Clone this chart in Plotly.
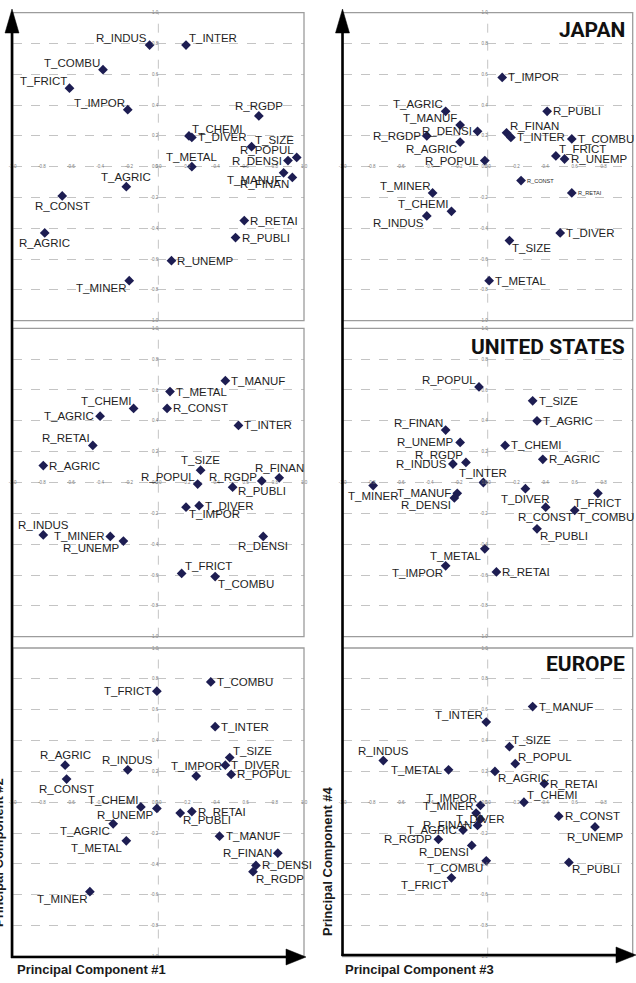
import plotly.graph_objects as go

# ---------------- data ----------------
TICKS = [-1.0, -0.8, -0.6, -0.4, -0.2, 0.0, 0.2, 0.4, 0.6, 0.8, 1.0]
TICK_TEXT = [f"{t:.1f}" for t in TICKS]

# Japan, PC1 vs PC2
JP12_NAMES = ["R_INDUS", "T_INTER", "T_COMBU", "T_FRICT", "T_IMPOR", "R_RGDP", "T_CHEMI", "T_DIVER",
              "T_SIZE", "R_POPUL", "R_DENSI", "T_MANUF", "R_FINAN", "T_METAL", "T_AGRIC", "R_CONST",
              "R_AGRIC", "R_RETAI", "R_PUBLI", "R_UNEMP", "T_MINER"]
JP12_X = [-0.06, 0.19, -0.38, -0.61, -0.21, 0.69, 0.21, 0.23, 0.64, 0.95, 0.89, 0.86, 0.92, 0.23,
          -0.22, -0.66, -0.78, 0.59, 0.53, 0.09, -0.20]
JP12_Y = [0.79, 0.79, 0.63, 0.51, 0.37, 0.33, 0.20, 0.19, 0.13, 0.06, 0.04, -0.04, -0.07, 0.00,
          -0.13, -0.19, -0.43, -0.35, -0.46, -0.61, -0.74]

# Japan, PC3 vs PC4
JP34_NAMES = ["T_IMPOR", "T_AGRIC", "R_PUBLI", "T_MANUF", "R_RGDP", "R_DENSI", "R_AGRIC", "R_POPUL",
              "R_FINAN", "T_INTER", "T_COMBU", "T_FRICT", "R_UNEMP", "R_CONST", "R_RETAI", "T_MINER",
              "T_CHEMI", "R_INDUS", "T_DIVER", "T_SIZE", "T_METAL"]
JP34_X = [0.10, -0.29, 0.41, -0.19, -0.42, -0.07, -0.19, -0.02, 0.13, 0.16, 0.58, 0.47, 0.53, 0.23,
          0.58, -0.38, -0.25, -0.42, 0.50, 0.15, 0.01]
JP34_Y = [0.58, 0.36, 0.36, 0.27, 0.20, 0.23, 0.16, 0.04, 0.22, 0.19, 0.18, 0.07, 0.05, -0.09,
          -0.17, -0.17, -0.29, -0.32, -0.43, -0.48, -0.74]

# United States, PC1 vs PC2
US12_NAMES = ["T_MANUF", "T_METAL", "T_CHEMI", "R_CONST", "T_AGRIC", "T_INTER", "R_RETAI", "R_AGRIC",
              "T_SIZE", "R_POPUL", "R_RGDP", "R_PUBLI", "R_FINAN", "T_DIVER", "T_IMPOR", "R_INDUS",
              "T_MINER", "R_UNEMP", "R_DENSI", "T_FRICT", "T_COMBU"]
US12_X = [0.46, 0.08, -0.17, 0.06, -0.40, 0.55, -0.45, -0.79, 0.29, 0.27, 0.51, 0.71, 0.83, 0.28,
          0.19, -0.79, -0.33, -0.24, 0.72, 0.16, 0.39]
US12_Y = [0.66, 0.59, 0.48, 0.48, 0.43, 0.37, 0.24, 0.11, 0.08, -0.01, -0.03, 0.01, 0.03, -0.15,
          -0.16, -0.34, -0.35, -0.38, -0.35, -0.59, -0.61]

# United States, PC3 vs PC4
US34_NAMES = ["R_POPUL", "T_SIZE", "T_AGRIC", "R_FINAN", "R_UNEMP", "T_CHEMI", "R_RGDP", "R_AGRIC",
              "R_INDUS", "T_INTER", "T_MINER", "T_MANUF", "R_DENSI", "T_DIVER", "T_FRICT", "R_CONST",
              "T_COMBU", "R_PUBLI", "T_METAL", "T_IMPOR", "R_RETAI"]
US34_X = [-0.06, 0.31, 0.34, -0.29, -0.19, 0.12, -0.15, 0.38, -0.24, -0.03, -0.79, -0.21, -0.23,
          0.26, 0.76, 0.40, 0.60, 0.34, -0.02, -0.29, 0.06]
US34_Y = [0.62, 0.53, 0.40, 0.34, 0.26, 0.24, 0.13, 0.15, 0.12, 0.00, -0.02, -0.07, -0.10, -0.04,
          -0.07, -0.16, -0.18, -0.30, -0.43, -0.54, -0.58]

# Europe, PC1 vs PC2
EU12_NAMES = ["T_COMBU", "T_FRICT", "T_INTER", "T_SIZE", "R_AGRIC", "T_DIVER", "R_INDUS", "T_IMPOR",
              "R_POPUL", "R_CONST", "T_CHEMI", "R_UNEMP", "R_RETAI", "R_PUBLI", "T_AGRIC", "T_METAL",
              "T_MINER", "T_MANUF", "R_FINAN", "R_DENSI", "R_RGDP"]
EU12_X = [0.36, -0.01, 0.39, 0.49, -0.64, 0.46, -0.21, 0.26, 0.50, -0.63, -0.12, -0.01, 0.23, 0.15,
          -0.31, -0.22, -0.47, 0.42, 0.82, 0.67, 0.65]
EU12_Y = [0.78, 0.72, 0.49, 0.29, 0.24, 0.24, 0.21, 0.17, 0.18, 0.15, -0.03, -0.04, -0.06, -0.07,
          -0.14, -0.25, -0.58, -0.22, -0.33, -0.41, -0.45]

# Europe, PC3 vs PC4
EU34_NAMES = ["T_MANUF", "T_INTER", "T_SIZE", "R_INDUS", "R_POPUL", "T_METAL", "R_AGRIC", "R_RETAI",
              "T_CHEMI", "T_IMPOR", "T_MINER", "T_DIVER", "R_FINAN", "T_AGRIC", "R_RGDP", "R_DENSI",
              "T_COMBU", "T_FRICT", "R_CONST", "R_UNEMP", "R_PUBLI"]
EU34_X = [0.31, -0.01, 0.15, -0.72, 0.19, -0.27, 0.05, 0.39, 0.25, -0.05, -0.08, -0.05, -0.07, -0.17,
          -0.34, -0.11, -0.01, -0.25, 0.49, 0.74, 0.56]
EU34_Y = [0.62, 0.52, 0.36, 0.27, 0.25, 0.21, 0.20, 0.12, 0.00, -0.02, -0.07, -0.11, -0.15, -0.18,
          -0.24, -0.28, -0.38, -0.49, -0.09, -0.16, -0.39]

REGION_TITLES = ["JAPAN", "UNITED STATES", "EUROPE"]
AXIS_TITLES = ["Principal Component #1", "Principal Component #2",
               "Principal Component #3", "Principal Component #4"]

# ---------------- label placement (style) ----------------
POS = {
    "JP12": ['top left', 'top right', 'top left', 'top left', 'top left', 'top center', 'top right',
             'middle right', 'top right', 'top left', 'middle left', 'bottom left', 'bottom left',
             'top center', 'top center', 'bottom center', 'bottom center', 'middle right',
             'middle right', 'middle right', 'bottom left'],
    "JP34": ['middle right', 'top left', 'middle right', 'top left', 'middle left', 'middle left',
             'bottom left', 'middle left', 'top right', 'middle right', 'middle right', 'top right',
             'middle right', 'middle right', 'middle right', 'top left', 'top left', 'bottom left',
             'middle right', 'bottom right', 'middle right'],
    "US12": ['middle right', 'middle right', 'top left', 'middle right', 'middle left', 'middle right',
             'top left', 'middle right', 'top center', 'top left', 'top center', 'bottom center',
             'top center', 'middle right', 'bottom right', 'top center', 'middle left', 'bottom left',
             'bottom center', 'top right', 'bottom right'],
    "US34": ['top left', 'middle right', 'middle right', 'top left', 'middle left', 'middle right',
             'top left', 'middle right', 'middle left', 'top center', 'bottom center', 'middle left',
             'bottom left', 'bottom center', 'bottom center', 'bottom center', 'bottom right',
             'bottom right', 'bottom left', 'bottom left', 'middle right'],
    "EU12": ['middle right', 'middle left', 'middle right', 'top right', 'top center', 'middle right',
             'top center', 'top center', 'middle right', 'bottom center', 'top left', 'bottom left',
             'middle right', 'bottom right', 'bottom left', 'bottom left', 'bottom left',
             'middle right', 'middle left', 'middle right', 'bottom right'],
    "EU34": ['middle right', 'top left', 'top right', 'top center', 'top right', 'middle left',
             'bottom right', 'middle right', 'top right', 'top left', 'top left', 'middle center',
             'middle left', 'middle left', 'middle left', 'bottom left', 'bottom left', 'bottom left',
             'middle right', 'bottom center', 'bottom right'],
}
# position -> (xanchor, xshift px, yshift px)
OFFSETS = {
    'top left': ('right', -2, 7), 'top right': ('left', 2, 7), 'top center': ('center', 0, 10),
    'bottom left': ('right', -2, -7), 'bottom right': ('left', 2, -7),
    'bottom center': ('center', 0, -10),
    'middle left': ('right', -5, 0), 'middle right': ('left', 5, 0), 'middle center': ('center', 0, 0),
}
SMALL_LABELS = {"JP34": ["R_CONST", "R_RETAI"]}

W, H = 636, 983
def px(x):
    return x / W
def py(y):
    return 1 - y / H

X_DOM = [[px(12.7), px(304.0)], [px(342.7), px(632.7)]]
Y_DOM = [[py(320.7), py(12.7)], [py(636.7), py(328.3)], [py(956.5), py(648.0)]]

PANELS = [
    ("JP12", JP12_NAMES, JP12_X, JP12_Y, 0, 0),
    ("JP34", JP34_NAMES, JP34_X, JP34_Y, 0, 1),
    ("US12", US12_NAMES, US12_X, US12_Y, 1, 0),
    ("US34", US34_NAMES, US34_X, US34_Y, 1, 1),
    ("EU12", EU12_NAMES, EU12_X, EU12_Y, 2, 0),
    ("EU34", EU34_NAMES, EU34_X, EU34_Y, 2, 1),
]

MARKER_COLOR = "#1d1d52"
LABEL_FONT = "Liberation Sans, Arial, sans-serif"
GRID_COLOR = "#c4c4c4"

fig = go.Figure()
layout = dict(
    width=W, height=H, margin=dict(l=0, r=0, t=0, b=0),
    paper_bgcolor="white", plot_bgcolor="white", showlegend=False,
)
shapes = []
annotations = []

for i, (key, names, xs, ys, row, col) in enumerate(PANELS):
    n = "" if i == 0 else str(i + 1)
    small = SMALL_LABELS.get(key, [])
    fig.add_trace(go.Scatter(
        x=xs, y=ys, mode="markers", xaxis="x" + n, yaxis="y" + n,
        marker=dict(symbol="diamond", size=7.5, color=MARKER_COLOR),
        cliponaxis=False, hoverinfo="skip",
    ))
    for nm, xv, yv, pos in zip(names, xs, ys, POS[key]):
        xa, xs_, ys_ = OFFSETS[pos]
        fsize = 5.6 if nm in small else 11.5
        if nm in small:
            ys_ = 0
        annotations.append(dict(
            x=xv, y=yv, xref="x" + n, yref="y" + n, text=nm, showarrow=False,
            xanchor=xa, yanchor="middle", xshift=xs_, yshift=ys_, borderpad=0,
            font=dict(family=LABEL_FONT, size=fsize, color="#1f1f1f"),
        ))
    xd, yd = X_DOM[col], Y_DOM[row]
    layout["xaxis" + n] = dict(
        domain=xd, range=[-1, 1], anchor="free", position=(yd[0] + yd[1]) / 2,
        tickvals=TICKS, ticktext=TICK_TEXT, ticks="", showline=False, zeroline=False,
        showgrid=False, tickfont=dict(family=LABEL_FONT, size=4.5, color="#7a7a7a"),
        ticklabelstandoff=-4, automargin=False, fixedrange=True,
    )
    layout["yaxis" + n] = dict(
        domain=yd, range=[-1, 1], anchor="free", position=(xd[0] + xd[1]) / 2,
        tickvals=TICKS, ticktext=TICK_TEXT, ticks="", showline=False, zeroline=False,
        showgrid=True, gridcolor=GRID_COLOR, griddash="dash", gridwidth=1,
        tickfont=dict(family=LABEL_FONT, size=4.5, color="#7a7a7a"),
        automargin=False, fixedrange=True,
    )
    # vertical zero reference line (dashed)
    shapes.append(dict(type="line", xref="x" + n, yref="y" + n + " domain",
                       x0=0, x1=0, y0=0, y1=1, layer="below",
                       line=dict(color=GRID_COLOR, width=1, dash="dash")))
    # panel frame
    shapes.append(dict(type="rect", xref="x" + n + " domain", yref="y" + n + " domain",
                       x0=0, x1=1, y0=0, y1=1, layer="above",
                       line=dict(color="#9c9c9c", width=1.3)))

# big axis arrows for each column
for (vx, hy, xr) in [(12.0, 957.0, 306.0), (342.5, 955.0, 636.0)]:
    shapes.append(dict(type="line", xref="paper", yref="paper",
                       x0=px(vx), x1=px(vx), y0=py(hy + 1), y1=py(30),
                       line=dict(color="black", width=2.6)))
    shapes.append(dict(type="path", xref="paper", yref="paper",
                       path=f"M {px(vx)},{py(9)} L {px(vx - 7)},{py(33)} L {px(vx + 7)},{py(33)} Z",
                       fillcolor="black", line=dict(color="black", width=0.5)))
    shapes.append(dict(type="line", xref="paper", yref="paper",
                       x0=px(vx - 1), x1=px(xr - 18), y0=py(hy), y1=py(hy),
                       line=dict(color="black", width=2.4)))
    shapes.append(dict(type="path", xref="paper", yref="paper",
                       path=f"M {px(xr)},{py(hy)} L {px(xr - 20)},{py(hy - 8)} L {px(xr - 20)},{py(hy + 8)} Z",
                       fillcolor="black", line=dict(color="black", width=0.5)))

title_font = dict(family="Liberation Sans, Arial, sans-serif", size=13, color="#1a1a1a", weight="bold")
annotations.append(dict(text=AXIS_TITLES[0], xref="paper", yref="paper", x=px(15), y=py(969),
                        xanchor="left", yanchor="middle", showarrow=False, font=title_font))
annotations.append(dict(text=AXIS_TITLES[2], xref="paper", yref="paper", x=px(343), y=py(969),
                        xanchor="left", yanchor="middle", showarrow=False, font=title_font))
annotations.append(dict(text=AXIS_TITLES[3], xref="paper", yref="paper", x=px(327), y=py(861),
                        xanchor="center", yanchor="middle", textangle=-90, showarrow=False,
                        font=title_font))
annotations.append(dict(text=AXIS_TITLES[1], xref="paper", yref="paper", x=px(-2), y=py(853),
                        xanchor="center", yanchor="middle", textangle=-90, showarrow=False,
                        font=title_font))

region_font = dict(family="Roboto, Liberation Sans, sans-serif", size=21, color="#111111",
                   weight="bold")
for title, yc in zip(REGION_TITLES, [30, 347, 664]):
    annotations.append(dict(text=title, xref="paper", yref="paper", x=px(627), y=py(yc),
                            xanchor="right", yanchor="middle", showarrow=False, font=region_font))

layout["shapes"] = shapes
layout["annotations"] = annotations
fig.update_layout(**layout)
fig.write_html("out.html")
